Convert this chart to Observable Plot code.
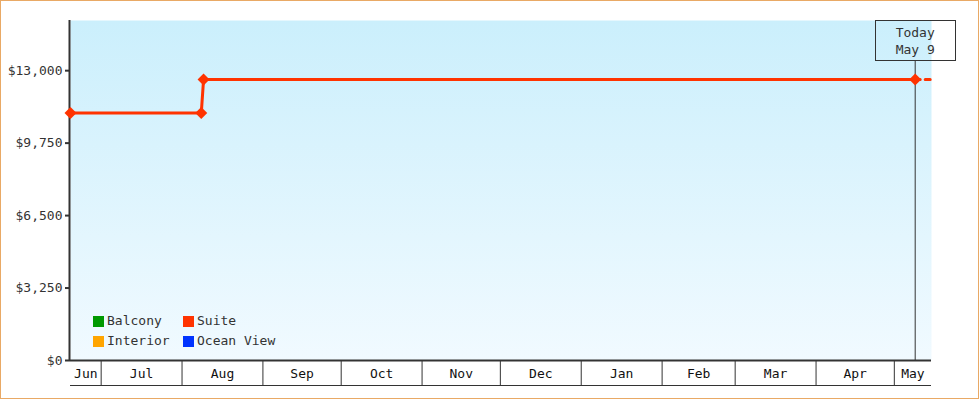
<!DOCTYPE html>
<html>
<head>
<meta charset="utf-8">
<script src="https://cdn.jsdelivr.net/npm/d3@7"></script>
<script src="https://cdn.jsdelivr.net/npm/@observablehq/plot@0.6"></script>
<style>
  html, body { margin: 0; padding: 0; background: #fff; }
  #wrap { position: relative; width: 980px; height: 400px; overflow: hidden; }
  #wrap svg { position: absolute; left: 0; top: 0; }
  #border { position: absolute; left: 0; top: 0; width: 979px; height: 399px; box-sizing: border-box; border: 1px solid #e9a965; pointer-events: none; }
  #legend { position: absolute; left: 93px; top: 314px; display: grid; grid-template-columns: 90px auto; row-gap: 6px;
            font-family: "DejaVu Sans Mono", monospace; font-size: 13px; color: #333; line-height: 14px; }
  #legend .item { display: flex; align-items: center; }
  #legend .sw { width: 11px; height: 11px; margin-right: 3px; display: inline-block; }
</style>
</head>
<body>
<div id="wrap">
  <div id="chart"></div>
  <div id="legend"></div>
  <div id="border"></div>
</div>
<script>
// ---- data ----
const legendNames = ["Balcony", "Suite", "Interior", "Ocean View"];
const legendColors = ["#009900", "#ff3300", "#ffa500", "#0033ff"];
const suiteDates = ["2024-06-19T06:00", "2024-08-08T09:00", "2024-08-09T06:00", "2025-05-09T00:00"];
const suitePrices = [11100, 11100, 12600, 12600];
const todayDate = "2025-05-09T00:00";
const todayLabel = "Today\nMay 9";
const xDomain = ["2024-06-19T06:00", "2025-05-15T06:00"];
const yMax = 15250;
const yTicks = [0, 3250, 6500, 9750, 13000];

// ---- build ----
const parse = d3.utcParse("%Y-%m-%dT%H:%M");
const suite = suiteDates.map((d, i) => ({date: parse(d), price: suitePrices[i]}));
const today = parse(todayDate);
const x0 = parse(xDomain[0]), x1 = parse(xDomain[1]);
const last = suite[suite.length - 1];
const projection = [last, {date: x1, price: last.price}];

const monthStarts = d3.utcMonth.range(d3.utcMonth.ceil(x0), x1);
const monthMids = d3.utcMonth.range(d3.utcMonth.floor(x0), x1).map(m => {
  const a = Math.max(+m, +x0), b = Math.min(+d3.utcMonth.offset(m, 1), +x1);
  return new Date((a + b) / 2);
});

const lineColor = legendColors[1];
const ink = "#333";

const chart = Plot.plot({
  width: 980,
  height: 400,
  marginLeft: 70,
  marginRight: 49,
  marginTop: 20,
  marginBottom: 40,
  style: {fontFamily: "DejaVu Sans Mono, monospace", fontSize: "13px", color: ink, background: "transparent"},
  x: {type: "utc", domain: [x0, x1]},
  y: {domain: [0, yMax]},
  marks: [
    Plot.frame({fill: "url(#bgGrad)", stroke: null}),
    Plot.axisY({ticks: yTicks, tickFormat: d => "$" + d3.format(",")(d), tickSize: 5, tickPadding: 3, strokeWidth: 2, stroke: ink, fill: ink, label: null}),
    Plot.axisX({ticks: monthStarts, tickSize: 25, tickFormat: () => "", stroke: ink, strokeWidth: 1, label: null}),
    Plot.axisX({ticks: monthMids, tickSize: 0, tickPadding: 8, tickFormat: d3.utcFormat("%b"), fill: "#111", label: null}),
    Plot.ruleY([0], {dy: 25, stroke: ink, strokeWidth: 1}),
    Plot.ruleY([0], {stroke: ink, strokeWidth: 2}),
    Plot.ruleX([x0], {stroke: ink, strokeWidth: 2, dx: -1}),
    Plot.ruleX([today], {stroke: ink, strokeWidth: 1, insetTop: 40}),
    Plot.text([today], {x: d => d, frameAnchor: "top", text: () => todayLabel, lineAnchor: "top", textAnchor: "middle", dy: 3.5, lineHeight: 1.37, fill: ink}),
    Plot.line(projection, {x: "date", y: "price", stroke: lineColor, strokeWidth: 3, strokeDasharray: "5,5"}),
    Plot.line(suite, {x: "date", y: "price", stroke: lineColor, strokeWidth: 3}),
    Plot.dot(suite, {x: "date", y: "price", symbol: "diamond2", r: 5.4, fill: lineColor, stroke: null})
  ]
});

// gradient defs
const svg = d3.select(chart);
const defs = svg.insert("defs", ":first-child");
const g = defs.append("linearGradient").attr("id", "bgGrad").attr("x1", 0).attr("y1", 0).attr("x2", 0).attr("y2", 1);
g.append("stop").attr("offset", "0%").attr("stop-color", "#cbeffc");
g.append("stop").attr("offset", "100%").attr("stop-color", "#f1faff");

// today label box
const cx = chart.scale("x").apply(today);
svg.append("rect").attr("x", Math.round(cx) - 39.5).attr("y", 20.5).attr("width", 80).attr("height", 40)
  .attr("fill", "none").attr("stroke", ink).attr("stroke-width", 1);

document.getElementById("chart").appendChild(chart);

// legend
const legend = d3.select("#legend");
legendNames.forEach((n, i) => {
  const item = legend.append("div").attr("class", "item");
  item.append("span").attr("class", "sw").style("background", legendColors[i]);
  item.append("span").text(n);
});
</script>
</body>
</html>
